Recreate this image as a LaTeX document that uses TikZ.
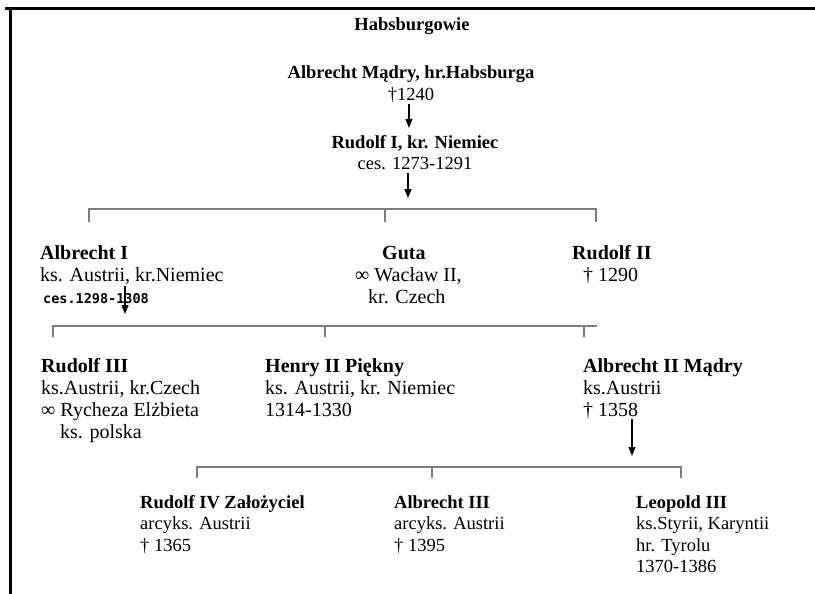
\documentclass[tikz,border=0pt]{standalone}
\usepackage{fontspec}
\setmainfont{Liberation Serif}
\newfontfamily\monofont{DejaVu Sans Mono}
\usetikzlibrary{arrows.meta,calc}
\definecolor{brgray}{RGB}{125,125,125}
\tikzset{
  txt/.style={inner sep=0pt, anchor=base west, align=left, font=\fontsize{20}{22}\selectfont},
  txtsmall/.style={inner sep=0pt, anchor=base west, align=left, font=\fontsize{18.5}{21.5}\selectfont},
  txttop/.style={inner sep=0pt, anchor=base, align=center, font=\fontsize{18.5}{21}\selectfont},
  arr/.style={-{Triangle[width=7pt,length=9pt]}, line width=1.3pt, black},
  brk/.style={draw=brgray, line width=1.5pt},
  frame/.style={line width=3pt, black}
}
\begin{document}
\begin{tikzpicture}[x=1pt,y=-1pt]
\useasboundingbox[fill=white] (0,0) rectangle (815,594);
% frame
\draw[frame] (5,9) -- (815,9);
\draw[frame] (10,9) -- (10,594);

% top (base anchor = baseline of the last line)
\node[txttop] (title) at (412,31) {\textbf{Habsburgowie}};
\node[txttop] (amadry) at (411,100) {\textbf{Albrecht Mądry, hr.Habsburga}\\†1240};
\node[txttop] (rudI) at (415,169) {\textbf{Rudolf I, kr. Niemiec}\\ces. 1273-1291};

% level 2
\node[txt] (albI) at (40,303) {\textbf{Albrecht I}\\ks. Austrii, kr.Niemiec\\\hspace*{3pt}{\monofont\bfseries\fontsize{13.5}{22}\selectfont ces.1298-1308}};
\node[txt] (guta) at (355,303) {\hspace*{27pt}\textbf{Guta}\\∞ Wacław II,\\\hspace*{13pt}kr. Czech};
\node[txt] (rudII) at (572,281) {\textbf{Rudolf II}\\\hspace*{11pt}† 1290};

% level 3
\node[txt] (rudIII) at (41,438) {\textbf{Rudolf III}\\ks.Austrii, kr.Czech\\∞ Rycheza Elżbieta\\\hspace*{19pt}ks. polska};
\node[txt] (henry) at (265,416) {\textbf{Henry II Piękny}\\ks. Austrii, kr. Niemiec\\1314-1330};
\node[txt] (albII) at (583,416) {\textbf{Albrecht II Mądry}\\ks.Austrii\\† 1358};

% level 4
\node[txtsmall] (rudIV) at (140,551) {\textbf{Rudolf IV Założyciel}\\arcyks. Austrii\\† 1365};
\node[txtsmall] (albIII) at (394,551) {\textbf{Albrecht III}\\arcyks. Austrii\\† 1395};
\node[txtsmall] (leo) at (636,572.5) {\textbf{Leopold III}\\ks.Styrii, Karyntii\\hr. Tyrolu\\1370-1386};

% bracket coordinates
\coordinate (b1L) at (89,209);  \coordinate (b1M) at (385,209); \coordinate (b1R) at (596,209);
\coordinate (b2L) at (53,326);  \coordinate (b2M) at (325,326); \coordinate (b2R) at (584,326); \coordinate (b2E) at (597,326);
\coordinate (b3L) at (197,467); \coordinate (b3M) at (432,467); \coordinate (b3R) at (681,467);

% brackets
\draw[brk] ($(b1L)+(0,13)$) -- (b1L) -- (b1R) -- ++(0,13);
\draw[brk] (b1M) -- ++(0,13);
\draw[brk] ($(b2L)+(0,11)$) -- (b2L) -- (b2E);
\draw[brk] (b2M) -- ++(0,11);
\draw[brk] (b2R) -- ++(0,11);
\draw[brk] ($(b3L)+(0,11)$) -- (b3L) -- (b3R) -- ++(0,11);
\draw[brk] (b3M) -- ++(0,11);

% arrows
\coordinate (a1s) at (409,104); \coordinate (a1e) at (409,128);
\coordinate (a2s) at (408,173); \coordinate (a2e) at (408,198);
\coordinate (a3s) at (125,286); \coordinate (a3e) at (125,314);
\coordinate (a4s) at (632,419); \coordinate (a4e) at (632,456);
\draw[arr] (a1s) -- (a1e);
\draw[arr] (a2s) -- (a2e);
\draw[arr] (a3s) -- (a3e);
\draw[arr] (a4s) -- (a4e);
\end{tikzpicture}
\end{document}
